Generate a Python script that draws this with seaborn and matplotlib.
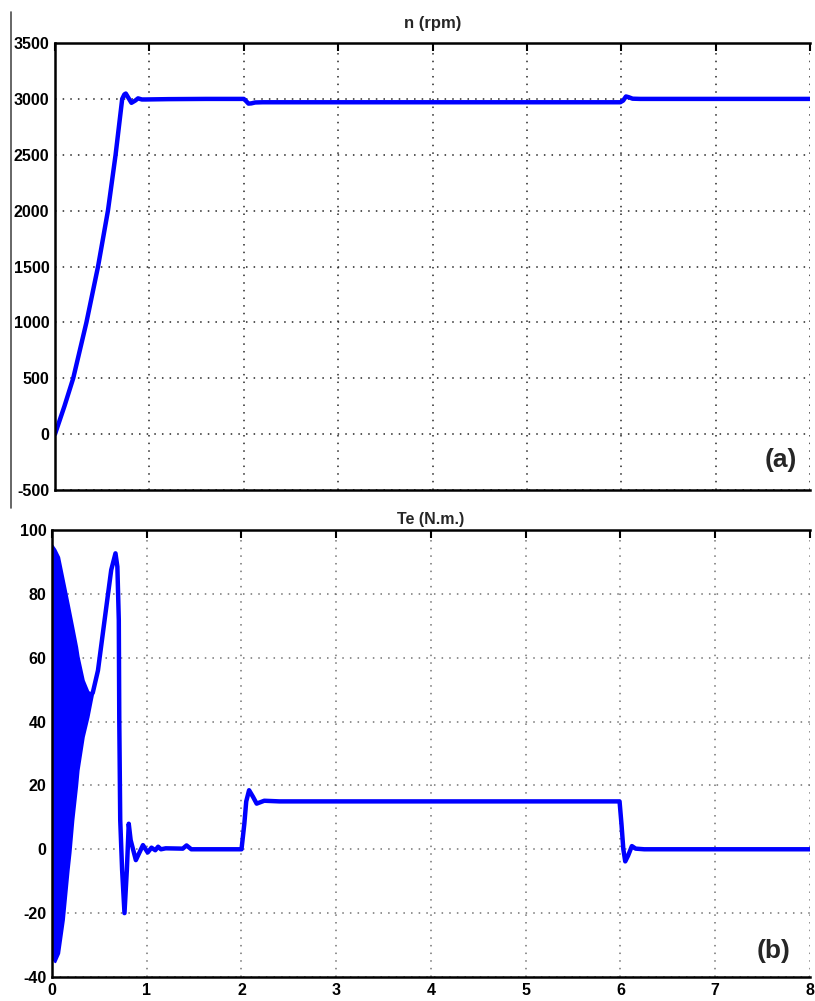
import numpy as np
import pandas as pd
import matplotlib
matplotlib.use("Agg")
import matplotlib.pyplot as plt
from matplotlib.lines import Line2D
import seaborn as sns

# Rotor speed n (rpm) versus time (s)
t_speed = [0.0, 0.10, 0.193, 0.333, 0.456, 0.561, 0.642, 0.712, 0.735, 0.75,
           0.77, 0.81, 0.85, 0.88, 0.92, 0.96, 1.2, 1.6, 2.0, 2.02, 2.05,
           2.08, 2.12, 2.2, 3.0, 4.0, 5.0, 5.99, 6.02, 6.05, 6.08, 6.12,
           6.2, 7.0, 8.0]
speed = [0, 250, 500, 1000, 1500, 2000, 2500, 3000, 3040, 3048,
         3020, 2965, 2985, 3005, 2995, 2995, 2998, 3000, 3000, 2985, 2958,
         2960, 2968, 2970, 2970, 2970, 2970, 2970, 2985, 3022, 3015, 3002,
         3000, 3000, 3000]

# Electromagnetic torque Te (N.m.): start-up ripple band envelope
t_band = [0.0, 0.03, 0.07, 0.12, 0.17, 0.19, 0.22, 0.26, 0.275, 0.33,
          0.38, 0.415, 0.43]
band_upper = [95.3, 94.0, 91.6, 84.3, 77.0, 74.0, 69.5, 63.4, 60.5, 53.0,
              49.4, 49.0, 49.0]
band_lower = [-34.0, -35.2, -32.5, -22.0, -6.5, -1.0, 9.2, 20.0, 24.8, 35.3,
              41.5, 46.8, 49.0]

# Electromagnetic torque Te (N.m.) after the ripple band
t_torque = [0.43, 0.485, 0.555, 0.625, 0.67, 0.69, 0.705, 0.71, 0.72, 0.74,
            0.765, 0.79, 0.81, 0.83, 0.885, 0.96, 1.01, 1.05, 1.09, 1.12,
            1.15, 1.2, 1.38, 1.42, 1.47, 1.6, 2.0, 2.03, 2.05, 2.08, 2.12,
            2.16, 2.24, 2.4, 3.0, 4.0, 5.0, 5.99, 6.01, 6.03, 6.05, 6.08,
            6.12, 6.16, 6.25, 7.0, 8.0]
torque = [49.0, 56.0, 71.8, 87.5, 92.7, 88.5, 71.8, 40.5, 9.2, -6.5,
          -20.0, -6.5, 8.0, 2.9, -3.4, 1.3, -1.0, 0.5, -0.3, 0.8,
          0.0, 0.3, 0.2, 1.2, 0.0, 0.0, 0.0, 8.0, 15.0, 18.5, 16.5,
          14.3, 15.2, 15.0, 15.0, 15.0, 15.0, 15.0, 8.0, 0.0, -3.8, -2.0,
          1.0, 0.2, 0.0, 0.0, 0.0]

speed_ticks = list(range(-500, 3501, 500))
torque_ticks = list(range(-40, 101, 20))
time_ticks = list(range(0, 9))

sns.set_style("white")
plt.rcParams['font.family'] = ['Liberation Sans', 'DejaVu Sans']
plt.rcParams['font.weight'] = 'bold'
plt.rcParams['axes.unicode_minus'] = False

fig = plt.figure(figsize=(8.15, 10.01), dpi=100)
ax1 = fig.add_axes([55 / 815, 0.5105, 755 / 815, 0.4465])
ax2 = fig.add_axes([52 / 815, 0.024, 758 / 815, 0.4465])

blue = "#0000ff"

sns.lineplot(x=t_speed, y=speed, ax=ax1, color=blue, lw=3.2, sort=False,
             solid_capstyle="round", solid_joinstyle="round")

ax2.fill_between(t_band, band_lower, band_upper, color=blue, lw=1.5,
                 edgecolor=blue)
sns.lineplot(x=t_torque, y=torque, ax=ax2, color=blue, lw=3.2, sort=False,
             solid_capstyle="round", solid_joinstyle="round")

for ax, yt, ylim, gcol in ((ax1, speed_ticks, (-500, 3500), "0.15"),
                           (ax2, torque_ticks, (-40, 100), "0.45")):
    ax.set_xlim(0, 8)
    ax.set_ylim(*ylim)
    ax.set_xticks(time_ticks)
    ax.set_yticks(yt)
    ax.grid(True, linestyle=(0, (1, 4)), color=gcol, lw=1.1)
    ax.tick_params(direction="in", length=6, width=1.5, top=True,
                   right=False, labelsize=11.5, pad=4, colors="black")
    for sp in ax.spines.values():
        sp.set_color("black")
        sp.set_linewidth(1.8)
    ax.spines["right"].set_visible(False)
    for lab in ax.get_xticklabels() + ax.get_yticklabels():
        lab.set_fontweight("bold")

ax1.tick_params(labelbottom=False)
ax1.set_title("n (rpm)", fontsize=12, fontweight="bold", pad=11)
ax2.set_title("Te (N.m.)", fontsize=11.5, fontweight="bold", pad=4)

ax1.text(0.962, 0.068, "(a)", transform=ax1.transAxes, fontsize=19,
         fontweight="bold", ha="center", va="center")
ax2.text(0.952, 0.058, "(b)", transform=ax2.transAxes, fontsize=19,
         fontweight="bold", ha="center", va="center")

fig.add_artist(Line2D([11 / 815, 11 / 815], [1 - 12 / 1001, 1 - 508 / 1001],
                      transform=fig.transFigure, color="0.3", lw=1.2))

fig.savefig("out.png", dpi=100)
